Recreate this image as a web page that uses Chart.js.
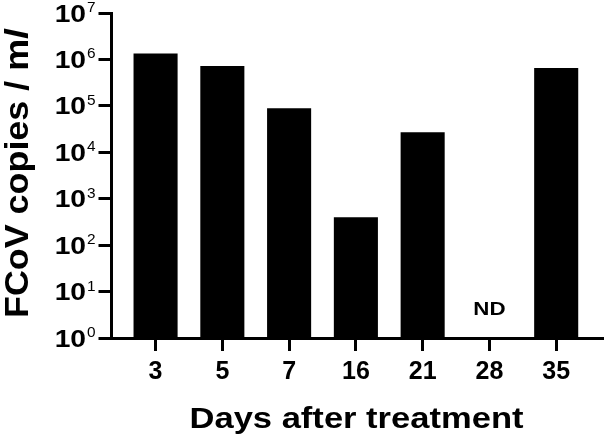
<!DOCTYPE html>
<html>
<head>
<meta charset="utf-8">
<script src="https://cdn.jsdelivr.net/npm/chart.js@4.4.1/dist/chart.umd.min.js"></script>
<style>
  html, body { margin: 0; padding: 0; background: #fff; }
</style>
</head>
<body>
<canvas id="myChart" width="604" height="439"></canvas>
<script>
// values
const days = ['3', '5', '7', '16', '21', '28', '35'];
const copies = [1350000, 720000, 89000, 400, 27000, null, 650000];
const notDetected = ['28'];
const yPowers = [0, 1, 2, 3, 4, 5, 6, 7];

const FONT = '"Liberation Sans", Arial, sans-serif';
const ctx = document.getElementById('myChart');

// draw text squeezed/stretched horizontally by sx
function drawText(c, text, x, y, font, sx, align) {
    c.save();
    c.font = font;
    c.textAlign = align || 'left';
    c.textBaseline = 'alphabetic';
    c.translate(x, y);
    c.scale(sx, 1);
    c.fillText(text, 0, 0);
    c.restore();
}

const labelsPlugin = {
    id: 'labels',
    afterDraw(chart) {
        const c = chart.ctx;
        const x = chart.scales.x;
        const y = chart.scales.y;
        const left = chart.chartArea.left;
        c.save();
        c.fillStyle = '#000';

        // y tick labels 10^n
        yPowers.forEach(p => {
            const py = y.getPixelForValue(Math.pow(10, p));
            drawText(c, '10', left - 25.5, py + 8.5, 'bold 23.5px ' + FONT, 1.2, 'right');
            drawText(c, String(p), left - 24.5, py - 1, '14px ' + FONT, 1.1, 'left');
        });

        // ND marks
        notDetected.forEach(d => {
            const px = x.getPixelForValue(days.indexOf(d));
            drawText(c, 'ND', px, 315, 'bold 18px ' + FONT, 1.24, 'center');
        });

        // x title
        const xt = 'Days after treatment';
        c.font = 'bold 29px ' + FONT;
        const xw = c.measureText(xt).width;
        drawText(c, xt, 356.5, 428, 'bold 29px ' + FONT, 334 / xw, 'center');

        // y title, with italic l
        const f1 = 'bold 33.5px ' + FONT;
        const f2 = 'italic bold 33.5px ' + FONT;
        const t1 = 'FCoV copies / m';
        const t2 = 'l';
        c.font = f1;
        const w1 = c.measureText(t1).width;
        c.font = f2;
        const w2 = c.measureText(t2).width;
        const s = 289 / (w1 + w2);
        c.translate(27.5, 173.5);
        c.rotate(-Math.PI / 2);
        c.scale(s, 1);
        c.textBaseline = 'alphabetic';
        c.textAlign = 'left';
        const start = -(w1 + w2) / 2;
        c.font = f1;
        c.fillText(t1, start, 0);
        c.font = f2;
        c.fillText(t2, start + w1, 0);
        c.restore();
    }
};

new Chart(ctx, {
    type: 'bar',
    data: {
        datasets: [{
            data: days.map((d, i) => ({x: i, y: copies[i]})),
            backgroundColor: '#000',
            borderWidth: 0,
            barPercentage: 1,
            categoryPercentage: 0.66
        }]
    },
    options: {
        responsive: false,
        animation: false,
        devicePixelRatio: 1,
        layout: {padding: {top: 13, right: 0, left: 0, bottom: 0}},
        plugins: {
            legend: {display: false},
            tooltip: {enabled: false}
        },
        scales: {
            x: {
                type: 'linear',
                offset: false,
                min: -0.66,
                max: 6.716,
                afterFit: scale => { scale.height = 101; },
                border: {color: '#000', width: 3},
                grid: {offset: false, drawOnChartArea: false, drawTicks: true, tickLength: 13, tickWidth: 3, tickColor: '#000'},
                ticks: {
                    stepSize: 1,
                    includeBounds: false,
                    autoSkip: false,
                    maxRotation: 0,
                    padding: 6,
                    color: '#000',
                    font: {family: FONT, size: 25, weight: 'bold'},
                    callback: v => days[v]
                }
            },
            y: {
                type: 'logarithmic',
                min: 1,
                max: 10000000,
                afterBuildTicks: scale => {
                    scale.ticks = yPowers.map(p => ({value: Math.pow(10, p), major: true}));
                },
                afterFit: scale => { scale.width = 111.5; },
                border: {color: '#000', width: 3},
                grid: {drawOnChartArea: false, drawTicks: true, tickLength: 13, tickWidth: 3, tickColor: '#000'},
                ticks: {display: false}
            }
        }
    },
    plugins: [labelsPlugin]
});
</script>
</body>
</html>
